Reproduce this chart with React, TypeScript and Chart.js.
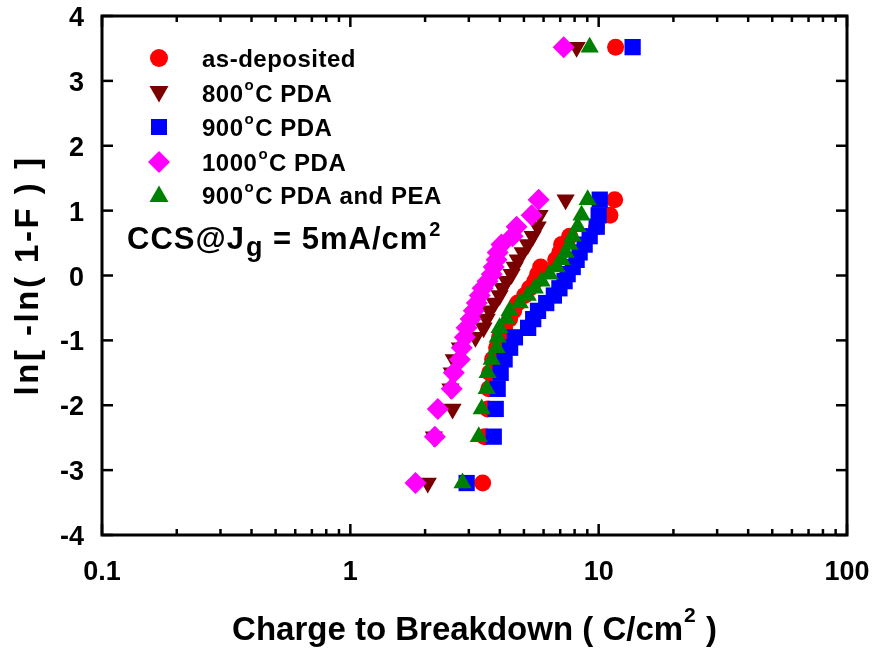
import React, { useEffect, useRef } from "react";
import { Chart, registerables } from "chart.js";

Chart.register(...registerables);

// Weibull plotting positions ln[-ln(1-F)], shared by every sample set (24 ranks + last point)
const weibullLevels = [
  -3.199, -2.484, -2.057, -1.747, -1.5, -1.293, -1.113, -0.953, -0.807, -0.672,
  -0.545, -0.425, -0.309, -0.197, -0.087, 0.021, 0.131, 0.241, 0.356, 0.476,
  0.606, 0.752, 0.927, 1.169, 3.52,
];

// Charge to breakdown (C/cm²) for each sample set, ordered by rank
const qbdAsDeposited = [
  3.41, 3.47, 3.57, 3.61, 3.64, 3.74, 3.88, 3.99, 4.18, 4.38,
  4.55, 4.72, 5.03, 5.27, 5.53, 5.68, 5.84, 6.71, 6.97, 7.09,
  7.64, 9.8, 11.1, 11.6, 11.7,
];
const qbd800PDA = [
  2.05, 2.17, 2.58, 2.53, 2.56, 2.61, 2.76, 3.19, 3.44, 3.54,
  3.64, 3.81, 3.99, 4.1, 4.26, 4.46, 4.59, 4.72, 4.94, 5.18,
  5.42, 5.68, 5.78, 7.36, 8.15,
];
const qbd900PDA = [
  2.94, 3.78, 3.85, 3.92, 4.03, 4.18, 4.4, 4.6, 5.2, 5.45,
  5.7, 6.15, 6.6, 6.95, 7.29, 7.5, 7.86, 8.15, 8.38, 8.78,
  9.2, 9.82, 10.0, 10.1, 13.7,
];
const qbd1000PDA = [
  1.83, 2.19, 2.25, 2.56, 2.61, 2.76, 2.81, 2.89, 2.94, 3.05,
  3.14, 3.23, 3.32, 3.41, 3.57, 3.71, 3.78, 3.88, 3.92, 4.06,
  4.5, 4.67, 5.37, 5.73, 7.23,
];
const qbd900PDAPEA = [
  2.83, 3.29, 3.38, 3.54, 3.57, 3.71, 3.88, 3.92, 3.99, 4.26,
  4.38, 4.81, 5.18, 5.53, 5.89, 6.34, 6.77, 7.09, 7.36, 7.64,
  7.86, 8.23, 8.53, 9.03, 9.2,
];

const xMajorTicks = [0.1, 1, 10, 100];
const xMinorTicks = [
  0.2, 0.3, 0.4, 0.5, 0.6, 0.7, 0.8, 0.9,
  2, 3, 4, 5, 6, 7, 8, 9,
  20, 30, 40, 50, 60, 70, 80, 90,
];
const xTickLabels = ["0.1", "1", "10", "100"];
const yTicks = [-4, -3, -2, -1, 0, 1, 2, 3, 4];

type Shape = "circle" | "triDown" | "square" | "diamond" | "triUp";

const seriesDefs: { label: [string, string]; color: string; shape: Shape; values: number[] }[] = [
  { label: ["as-deposited", ""], color: "#ff0000", shape: "circle", values: qbdAsDeposited },
  { label: ["800", "C PDA"], color: "#7a0000", shape: "triDown", values: qbd800PDA },
  { label: ["900", "C PDA"], color: "#0000ff", shape: "square", values: qbd900PDA },
  { label: ["1000", "C PDA"], color: "#ff00ff", shape: "diamond", values: qbd1000PDA },
  { label: ["900", "C PDA and PEA"], color: "#008000", shape: "triUp", values: qbd900PDAPEA },
];

const FONT = "'Liberation Sans', Arial, Helvetica, sans-serif";

function drawShape(ctx: CanvasRenderingContext2D, shape: Shape, cx: number, cy: number, color: string) {
  ctx.fillStyle = color;
  ctx.beginPath();
  if (shape === "circle") {
    ctx.arc(cx, cy, 9, 0, Math.PI * 2);
  } else if (shape === "square") {
    ctx.rect(cx - 8, cy - 8, 16, 16);
  } else if (shape === "diamond") {
    ctx.moveTo(cx, cy - 11);
    ctx.lineTo(cx + 11, cy);
    ctx.lineTo(cx, cy + 11);
    ctx.lineTo(cx - 11, cy);
  } else if (shape === "triUp") {
    ctx.moveTo(cx, cy - 9.5);
    ctx.lineTo(cx + 9.5, cy + 7);
    ctx.lineTo(cx - 9.5, cy + 7);
  } else {
    ctx.moveTo(cx, cy + 9.5);
    ctx.lineTo(cx + 9.5, cy - 7);
    ctx.lineTo(cx - 9.5, cy - 7);
  }
  ctx.closePath();
  ctx.fill();
}

function setSpacing(ctx: CanvasRenderingContext2D, px: number) {
  (ctx as any).letterSpacing = `${px}px`;
}

const frameAndText = {
  id: "frameAndText",
  afterDraw(chart: any) {
    const { ctx, chartArea: a, scales } = chart;
    const xs = scales.x;
    const ys = scales.y;
    ctx.save();
    ctx.strokeStyle = "#000";
    ctx.fillStyle = "#000";
    ctx.lineCap = "butt";

    const seg = (x1: number, y1: number, x2: number, y2: number) => {
      ctx.beginPath();
      ctx.moveTo(x1, y1);
      ctx.lineTo(x2, y2);
      ctx.stroke();
    };

    // inward tick marks on all four sides
    ctx.lineWidth = 2.5;
    xMajorTicks.forEach((v) => {
      const px = xs.getPixelForValue(v);
      seg(px, a.bottom, px, a.bottom - 11);
      seg(px, a.top, px, a.top + 11);
    });
    xMinorTicks.forEach((v) => {
      const px = xs.getPixelForValue(v);
      seg(px, a.bottom, px, a.bottom - 6);
      seg(px, a.top, px, a.top + 6);
    });
    yTicks.forEach((v) => {
      const py = ys.getPixelForValue(v);
      seg(a.left, py, a.left + 11, py);
      seg(a.right, py, a.right - 11, py);
    });

    // plot frame
    ctx.lineWidth = 3;
    ctx.strokeRect(a.left, a.top, a.right - a.left, a.bottom - a.top);

    // tick labels
    ctx.font = `bold 27px ${FONT}`;
    ctx.textAlign = "right";
    ctx.textBaseline = "alphabetic";
    yTicks.forEach((v) => {
      ctx.fillText(String(v), a.left - 18, ys.getPixelForValue(v) + 10);
    });
    ctx.textAlign = "center";
    xMajorTicks.forEach((v, i) => {
      ctx.fillText(xTickLabels[i], xs.getPixelForValue(v), 580);
    });

    // x-axis title with superscript
    const mainFont = `bold 33px ${FONT}`;
    const supFont = `bold 21px ${FONT}`;
    const t1 = "Charge to Breakdown ( C/cm";
    const t2 = " )";
    ctx.textAlign = "left";
    ctx.font = mainFont;
    const w1 = ctx.measureText(t1).width;
    const w3 = ctx.measureText(t2).width;
    ctx.font = supFont;
    const w2 = ctx.measureText("2").width + 2;
    const tx = (a.left + a.right) / 2 - (w1 + w2 + w3) / 2;
    ctx.font = mainFont;
    ctx.fillText(t1, tx, 640);
    ctx.font = supFont;
    ctx.fillText("2", tx + w1 + 1, 622);
    ctx.font = mainFont;
    ctx.fillText(t2, tx + w1 + w2, 640);

    // y-axis title
    ctx.save();
    ctx.translate(38, (a.top + a.bottom) / 2);
    ctx.rotate(-Math.PI / 2);
    ctx.textAlign = "center";
    ctx.font = `bold 33px ${FONT}`;
    setSpacing(ctx, 2.5);
    ctx.fillText("ln[ -ln( 1-F ) ]", 0, 0);
    setSpacing(ctx, 0);
    ctx.restore();

    // legend
    const rowY = [58, 93, 127, 162, 195];
    seriesDefs.forEach((s, i) => {
      const cy = rowY[i];
      drawShape(ctx, s.shape, 159, cy, s.color);
      ctx.fillStyle = "#000";
      ctx.textAlign = "left";
      ctx.font = `bold 24px ${FONT}`;
      setSpacing(ctx, 0.5);
      let x = 202;
      const base = cy + 9;
      ctx.fillText(s.label[0], x, base);
      if (s.label[1]) {
        x += ctx.measureText(s.label[0]).width + 1;
        ctx.font = `bold 15px ${FONT}`;
        ctx.fillText("o", x, base - 12);
        x += ctx.measureText("o").width + 1;
        ctx.font = `bold 24px ${FONT}`;
        ctx.fillText(s.label[1], x, base);
      }
      setSpacing(ctx, 0);
    });

    // measurement condition
    setSpacing(ctx, 1);
    ctx.font = `bold 31px ${FONT}`;
    let cx = 127;
    const cb = 249;
    ctx.fillText("CCS@J", cx, cb);
    cx += ctx.measureText("CCS@J").width + 1;
    ctx.font = `bold 27px ${FONT}`;
    ctx.fillText("g", cx, cb + 7);
    cx += ctx.measureText("g").width;
    ctx.font = `bold 31px ${FONT}`;
    ctx.fillText(" = 5mA/cm", cx, cb);
    cx += ctx.measureText(" = 5mA/cm").width;
    ctx.font = `bold 20px ${FONT}`;
    ctx.fillText("2", cx + 1, cb - 13);
    setSpacing(ctx, 0);

    ctx.restore();
  },
};

const pointStyles: Record<Shape, { style: string; rotation: number; radius: number }> = {
  circle: { style: "circle", rotation: 0, radius: 8.5 },
  triDown: { style: "triangle", rotation: 180, radius: 10.5 },
  square: { style: "rect", rotation: 0, radius: 11.5 },
  diamond: { style: "rectRot", rotation: 0, radius: 11 },
  triUp: { style: "triangle", rotation: 0, radius: 10.5 },
};

export default function App() {
  const canvasRef = useRef<HTMLCanvasElement | null>(null);

  useEffect(() => {
    const canvas = canvasRef.current;
    if (!canvas) return;
    const datasets = seriesDefs.map((s, i) => {
      const ps = pointStyles[s.shape];
      return {
        label: s.label.join("°"),
        data: s.values.map((v, k) => ({ x: v, y: weibullLevels[k] })),
        pointStyle: ps.style,
        rotation: ps.rotation,
        pointRadius: ps.radius,
        pointBackgroundColor: s.color,
        pointBorderColor: s.color,
        pointBorderWidth: 0,
        showLine: false,
        order: seriesDefs.length - i,
      };
    });
    const chart = new Chart(canvas, {
      type: "scatter",
      data: { datasets: datasets as any },
      options: {
        animation: false,
        responsive: false,
        devicePixelRatio: 1,
        layout: { padding: { left: 102, right: 28, top: 16, bottom: 115 } },
        plugins: { legend: { display: false }, tooltip: { enabled: false } },
        scales: {
          x: { type: "logarithmic", min: 0.1, max: 100, display: false },
          y: { type: "linear", min: -4, max: 4, display: false },
        },
      },
      plugins: [frameAndText],
    });
    return () => chart.destroy();
  }, []);

  return (
    <div style={{ position: "absolute", left: 0, top: 0, width: 875, height: 650, background: "#fff" }}>
      <canvas ref={canvasRef} width={875} height={650} />
    </div>
  );
}
